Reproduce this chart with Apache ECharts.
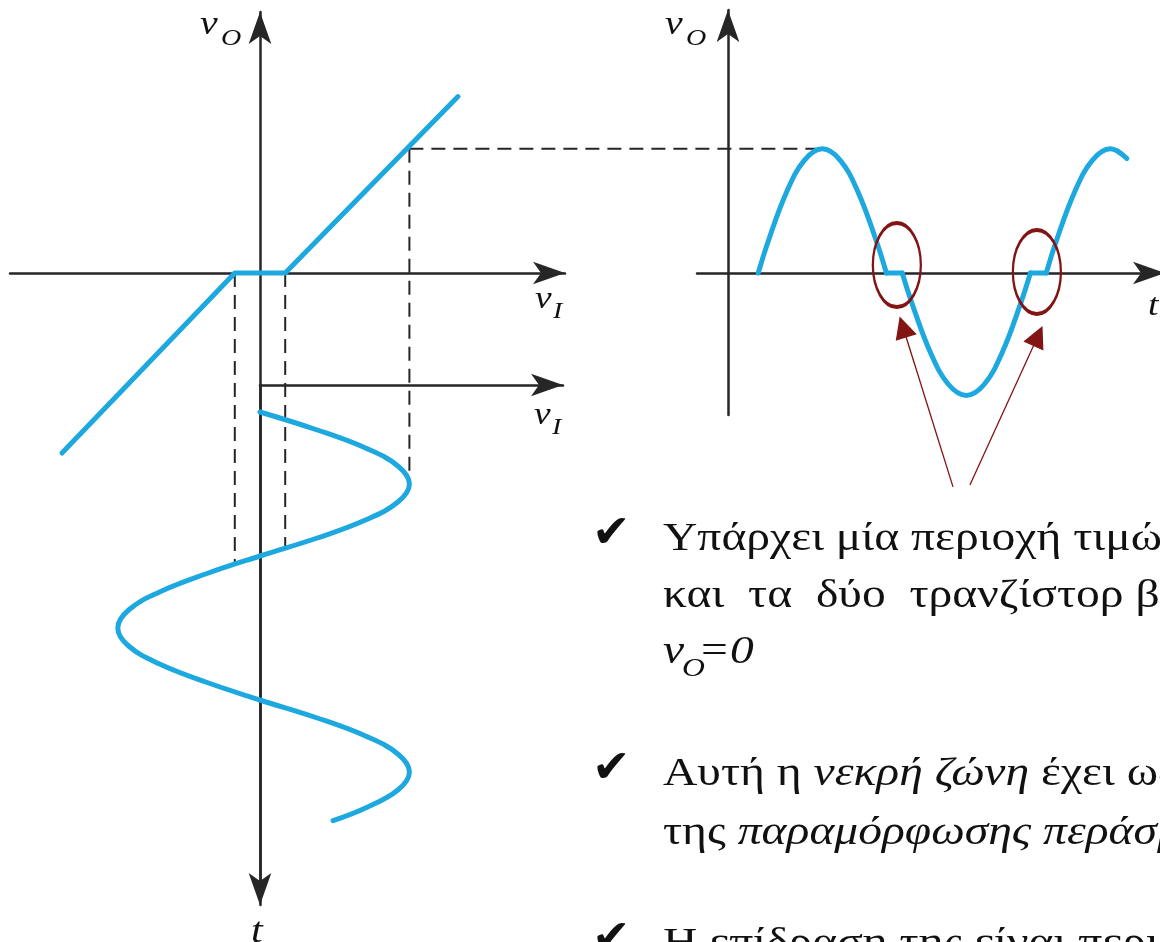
<!DOCTYPE html>
<html>
<head>
<meta charset="utf-8">
<title>Νεκρή ζώνη - παραμόρφωση περάσματος</title>
<script src="https://cdn.jsdelivr.net/npm/echarts@6/dist/echarts.min.js"></script>
<style>
html, body { margin: 0; padding: 0; background: #fff; }
#chart { width: 1160px; height: 942px; }
</style>
</head>
<body>
<div id="chart"></div>
<script>
// δεδομένα: 1 μονάδα (V ή χρόνος) = 36 px σε όλα τα διαγράμματα

// χαρακτηριστική μεταφοράς [vI, vO], νεκρή ζώνη ±0.7
var transferCurve = [[-5.5, -5.0], [-0.7, 0], [0.7, 0], [5.5, 4.9]];

// είσοδος, ο χρόνος μετράει προς τα κάτω: [vI, t]
var inputWave = [
    [0, 0.75], [1.59, 1.25], [2.93, 1.75], [3.83, 2.25], [4.15, 2.75], [3.83, 3.25], [2.93, 3.75], [1.59, 4.25],
    [0, 4.75], [-1.51, 5.25], [-2.79, 5.75], [-3.65, 6.25], [-3.95, 6.75], [-3.65, 7.25], [-2.79, 7.75], [-1.51, 8.25],
    [0, 8.75], [1.59, 9.25], [2.93, 9.75], [3.83, 10.25], [4.15, 10.75], [3.83, 11.25], [2.93, 11.75], [2.03, 12.1]
];

// έξοδος [t, vO] - κομμάτια ημιτόνου και τα επίπεδα τμήματα της νεκρής ζώνης
var outLobe1 = [[0.84, 0], [1.12, 0.89], [1.62, 2.23], [2.12, 3.13], [2.62, 3.45], [3.12, 3.13], [3.62, 2.23], [4.12, 0.89], [4.40, 0]];
var outFlat1 = [[4.40, 0], [4.84, 0]];
var outLobe2 = [[4.84, 0], [5.12, -0.87], [5.62, -2.2], [6.12, -3.09], [6.62, -3.4], [7.12, -3.09], [7.62, -2.2], [8.12, -0.87], [8.40, 0]];
var outFlat2 = [[8.40, 0], [8.84, 0]];
var outLobe3 = [[8.84, 0], [9.12, 0.89], [9.62, 2.23], [10.12, 3.13], [10.62, 3.45], [11.08, 3.18]];

// διακεκομμένες βοηθητικές γραμμές [vI, vO]
var guideLines = [
    [[-0.7, 0], [-0.7, -8.08]],
    [[0.7, 0], [0.7, -7.64]],
    [[4.15, 3.45], [4.15, -5.86]],
    [[4.15, 3.45], [15.45, 3.45]]
];

// κύκλοι γύρω από τη νεκρή ζώνη και βέλη [t, vO]
var deadZoneMarks = [[4.69, 0.22], [8.58, 0.03]];
var pointerArrows = [
    [[6.25, -5.94], [4.86, -1.5]],
    [[6.72, -5.89], [8.61, -1.75]]
];

var CYAN = '#1ea8e0', AXIS = '#262626', RED = '#821414', INK = '#111';
var SERIF = '"Liberation Serif", "Times New Roman", serif';
var K = 36;
var FS = 39;
var STRETCH = 1.22;

// πλαίσια σε px (ox, oy: αρχή αξόνων)
var frames = [
    // 0: vO - vI
    { left: 10, top: 12, right: 565, bottom: 890, ox: 260, oy: 273, showX: true, showY: true },
    // 1: vI(t), ο χρόνος προς τα κάτω
    { left: 10, top: 385, right: 563, bottom: 905, ox: 260, oy: 385, down: true, showX: false, showY: true },
    // 2: ο οριζόντιος άξονας vI του κάτω διαγράμματος
    { left: 260, top: 385, right: 563, bottom: 395, ox: 260, oy: 385, showX: true, showY: false, topAxis: true },
    // 3: vO(t)
    { left: 697, top: 10, right: 1165, bottom: 415, ox: 728, oy: 273, showX: true, showY: true },
    // 4: όλη η εικόνα, ίδια κλίμακα με το 0, για τις διακεκομμένες
    { left: 0, top: 0, right: 1160, bottom: 942, ox: 260, oy: 273, showX: false, showY: false }
];

function axisLine(show, symbol) {
    return {
        show: show,
        onZero: true,
        symbol: symbol,
        symbolSize: [17, 32],
        lineStyle: { color: AXIS, width: 2.5 }
    };
}

var grids = [], xAxes = [], yAxes = [];
frames.forEach(function (f, i) {
    grids.push({ left: f.left, top: f.top, width: f.right - f.left, height: f.bottom - f.top, outerBoundsMode: 'none', containLabel: false });
    var xLine = axisLine(f.showX, ['none', 'arrow']);
    if (f.topAxis) xLine.onZero = false;
    xAxes.push({
        type: 'value', gridIndex: i, position: f.topAxis ? 'top' : 'bottom',
        min: (f.left - f.ox) / K, max: (f.right - f.ox) / K,
        axisLine: xLine, axisTick: { show: false }, axisLabel: { show: false }, splitLine: { show: false }
    });
    yAxes.push({
        type: 'value', gridIndex: i, inverse: !!f.down,
        min: f.down ? 0 : (f.oy - f.bottom) / K,
        max: f.down ? (f.bottom - f.top) / K : (f.oy - f.top) / K,
        axisLine: axisLine(f.showY, f.down ? ['arrow', 'none'] : ['none', 'arrow']),
        axisTick: { show: false }, axisLabel: { show: false }, splitLine: { show: false }
    });
});

function curve(idx, data, smooth) {
    return {
        type: 'line', xAxisIndex: idx, yAxisIndex: idx, data: data,
        smooth: smooth ? 0.4 : false, showSymbol: false, silent: true, z: 4,
        lineStyle: { color: CYAN, width: 5, cap: 'round', join: 'round' }
    };
}

var series = [
    curve(0, transferCurve, false),
    curve(1, inputWave, true),
    curve(3, outLobe1, true),
    curve(3, outFlat1, false),
    curve(3, outLobe2, true),
    curve(3, outFlat2, false),
    curve(3, outLobe3, true)
];
guideLines.forEach(function (seg) {
    series.push({
        type: 'line', xAxisIndex: 4, yAxisIndex: 4, data: seg,
        showSymbol: false, silent: true, z: 3,
        lineStyle: { color: AXIS, width: 2, type: [14, 8] }
    });
});
series.push({
    type: 'scatter', xAxisIndex: 3, yAxisIndex: 3, data: deadZoneMarks,
    symbol: 'circle', symbolSize: [48, 84], silent: true, z: 5,
    itemStyle: { color: 'rgba(0,0,0,0)', borderColor: RED, borderWidth: 3, opacity: 1 }
});
series.push({
    type: 'lines', coordinateSystem: 'cartesian2d', xAxisIndex: 3, yAxisIndex: 3,
    data: pointerArrows.map(function (c) { return { coords: c }; }),
    symbol: ['none', 'triangle'], symbolSize: [17, 22], clip: false, silent: true, z: 5,
    lineStyle: { color: RED, width: 1.3, opacity: 1 }
});

// κείμενα: y από τη γραμμή βάσης
function txt(x, base, text, size, italic, family) {
    return {
        type: 'text', x: x, y: base - 0.22 * size, silent: true,
        style: {
            text: text, fontSize: size, fontFamily: family || SERIF,
            fontStyle: italic ? 'italic' : 'normal',
            fill: INK, align: 'left', verticalAlign: 'middle'
        }
    };
}
function wide(el, s) {
    el.scaleX = s || 1.17;
    return el;
}
function richTxt(x, base, text) {
    var el = txt(x, base, text, FS, false);
    el.style.rich = { i: { fontSize: FS, fontFamily: SERIF, fontStyle: 'italic', fill: INK } };
    return wide(el, STRETCH);
}
function check(base) {
    return txt(592, base - 3, '✔', 46, false, '"DejaVu Sans"');
}

var graphics = [
    // ετικέτες αξόνων
    wide(txt(200, 33, 'v', 34, true)), wide(txt(221, 44, 'O', 24, true)),
    wide(txt(665, 33, 'v', 34, true)), wide(txt(686, 44, 'O', 24, true)),
    wide(txt(535, 307, 'v', 32, true)), wide(txt(553, 317, 'I', 24, true)),
    wide(txt(534, 423, 'v', 32, true)), wide(txt(552, 433, 'I', 24, true)),
    wide(txt(251, 940, 't', 36, true)),
    wide(txt(1148, 314, 't', 32, true)),
    // κουκκίδες
    check(548),
    richTxt(663, 548, 'Υπάρχει μία περιοχή τιμών της vI γύρω από το μηδέν όπου'),
    richTxt(663, 605, 'και  τα  δύο  τρανζίστορ βρίσκονται σε  αποκοπή και'),
    wide(txt(663, 661, 'v', FS, true), STRETCH), wide(txt(682, 675, 'O', 26, true), STRETCH), wide(txt(698, 661, '=0', FS, true), STRETCH),
    check(783),
    richTxt(663, 783, 'Αυτή η {i|νεκρή ζώνη} έχει ως αποτέλεσμα την εμφάνιση'),
    richTxt(663, 842, 'της {i|παραμόρφωσης περάσματος}'),
    check(953),
    richTxt(663, 953, 'Η επίδραση της είναι περισσότερο έντονη για μικρά σήματα')
];

var chart = echarts.init(document.getElementById('chart'));
chart.setOption({
    animation: false,
    backgroundColor: '#fff',
    grid: grids,
    xAxis: xAxes,
    yAxis: yAxes,
    series: series,
    graphic: { elements: graphics }
});
</script>
</body>
</html>
